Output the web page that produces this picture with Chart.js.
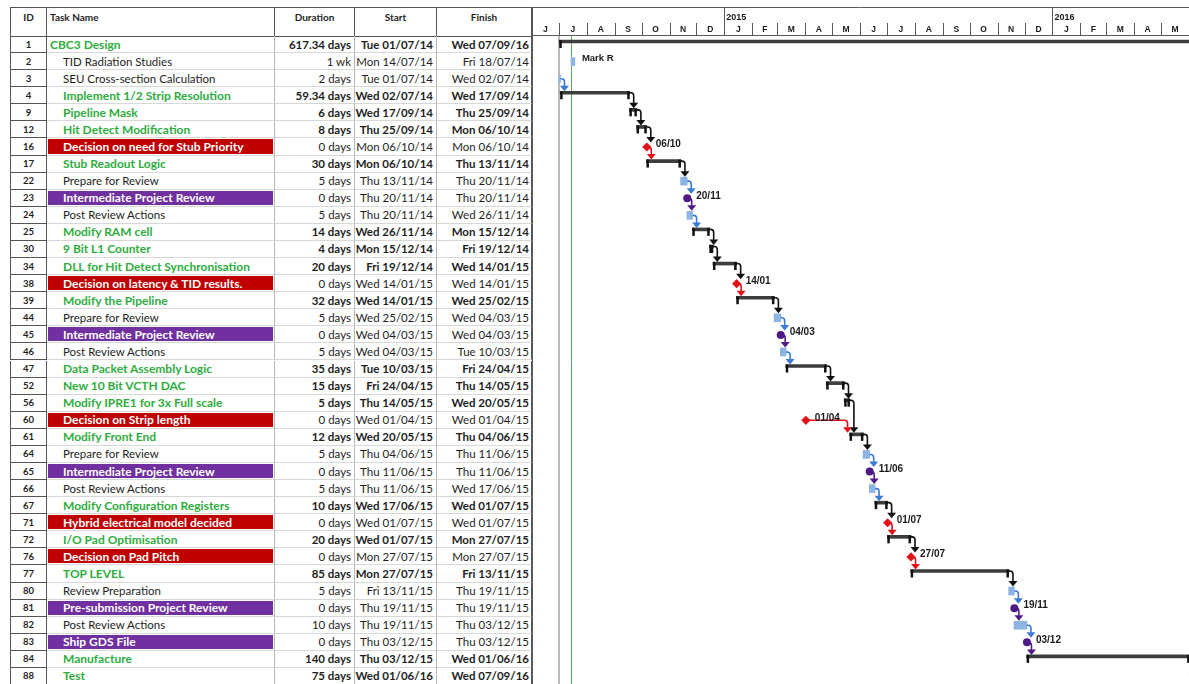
<!DOCTYPE html>
<html>
<head>
<meta charset="utf-8">
<title>CBC3 Design schedule</title>
<script src="https://cdn.jsdelivr.net/npm/chart.js"></script>
<style>
  html, body { margin: 0; padding: 0; background: #fff; }
  body { width: 1189px; height: 684px; overflow: hidden; position: relative; }
  #sheet { position: absolute; left: 0; top: 0; width: 533px; height: 684px;
           font-family: Lato, 'Open Sans', 'DejaVu Sans', sans-serif; color: #1e1e1e; }
  .c { position: absolute; box-sizing: border-box; white-space: nowrap; overflow: hidden;
       font-size: 11.5px; display: flex; align-items: center; }
  .hd { font-weight: 700; font-size: 10px; align-items: flex-start; padding-top: 3px;
        border-top: 1px solid #555; border-bottom: 1px solid #555; border-right: 1px solid #555;
        justify-content: center; }
  .hd.first { border-left: 1px solid #555; }
  .hd.left { justify-content: flex-start; padding-left: 3px; }
  .idc { justify-content: center; font-weight: 700; font-size: 9.5px;
         border-left: 1px solid #555; border-right: 1px solid #555; border-bottom: 1px solid #555; }
  .name { border-right: 1px solid #b8b8b8; border-bottom: 1px solid #d8d8d8; padding-left: 16px; }
  .name.root { padding-left: 3px; }
  .num { justify-content: flex-end; padding-right: 3px;
         border-right: 1px solid #b8b8b8; border-bottom: 1px solid #d8d8d8; }
  .num.last { border-right: 1px solid #555; padding-right: 2px; }
  .summary { color: #2ead3e; font-weight: 700; font-size: 12px; }
  .num.bold { font-weight: 700; }
  .decision { background: #c00000; color: #fff; font-weight: 700; font-size: 12px;
              box-shadow: inset 1px 1px 0 #fff, inset -1px -1px 0 #fff; }
  .review { background: #7030a0; color: #fff; font-weight: 700; font-size: 12px;
            box-shadow: inset 1px 1px 0 #fff, inset -1px -1px 0 #fff; }
  #gantt { position: absolute; left: 532px; top: 0; }
</style>
</head>
<body>
<div id="sheet"></div>
<canvas id="gantt" width="657" height="685" style="width:657px;height:685px"></canvas>
<script>
// ---- schedule rows ----
const rowIds = ['1','2','3','4','9','12','16','17','22','23','24','25','30','34','38','39','44','45','46',
  '47','52','56','60','61','64','65','66','67','71','72','76','77','80','81','82','83','84','88'];

const taskNames = ['CBC3 Design','TID Radiation Studies','SEU Cross-section Calculation',
  'Implement 1/2 Strip Resolution','Pipeline Mask','Hit Detect Modification',
  'Decision on need for Stub Priority','Stub Readout Logic','Prepare for Review',
  'Intermediate Project Review','Post Review Actions','Modify RAM cell','9 Bit L1 Counter',
  'DLL for Hit Detect Synchronisation','Decision on latency & TID results.','Modify the Pipeline',
  'Prepare for Review','Intermediate Project Review','Post Review Actions','Data Packet Assembly Logic',
  'New 10 Bit VCTH DAC','Modify IPRE1 for 3x Full scale','Decision on Strip length','Modify Front End',
  'Prepare for Review','Intermediate Project Review','Post Review Actions',
  'Modify Configuration Registers','Hybrid electrical model decided','I/O Pad Optimisation',
  'Decision on Pad Pitch','TOP LEVEL','Review Preparation','Pre-submission Project Review',
  'Post Review Actions','Ship GDS File','Manufacture','Test'];

// summary = grouped work, task = plain task, decision / review = milestones
const rowKinds = ['summary','task','task','summary','summary','summary','decision','summary','task',
  'review','task','summary','summary','summary','decision','summary','task','review','task','summary',
  'summary','summary','decision','summary','task','review','task','summary','decision','summary',
  'decision','summary','task','review','task','review','summary','summary'];

const durations = ['617.34 days','1 wk','2 days','59.34 days','6 days','8 days','0 days','30 days',
  '5 days','0 days','5 days','14 days','4 days','20 days','0 days','32 days','5 days','0 days','5 days',
  '35 days','15 days','5 days','0 days','12 days','5 days','0 days','5 days','10 days','0 days',
  '20 days','0 days','85 days','5 days','0 days','10 days','0 days','140 days','75 days'];

const startDates = ['Tue 01/07/14','Mon 14/07/14','Tue 01/07/14','Wed 02/07/14','Wed 17/09/14',
  'Thu 25/09/14','Mon 06/10/14','Mon 06/10/14','Thu 13/11/14','Thu 20/11/14','Thu 20/11/14',
  'Wed 26/11/14','Mon 15/12/14','Fri 19/12/14','Wed 14/01/15','Wed 14/01/15','Wed 25/02/15',
  'Wed 04/03/15','Wed 04/03/15','Tue 10/03/15','Fri 24/04/15','Thu 14/05/15','Wed 01/04/15',
  'Wed 20/05/15','Thu 04/06/15','Thu 11/06/15','Thu 11/06/15','Wed 17/06/15','Wed 01/07/15',
  'Wed 01/07/15','Mon 27/07/15','Mon 27/07/15','Fri 13/11/15','Thu 19/11/15','Thu 19/11/15',
  'Thu 03/12/15','Thu 03/12/15','Wed 01/06/16'];

const finishDates = ['Wed 07/09/16','Fri 18/07/14','Wed 02/07/14','Wed 17/09/14','Thu 25/09/14',
  'Mon 06/10/14','Mon 06/10/14','Thu 13/11/14','Thu 20/11/14','Thu 20/11/14','Wed 26/11/14',
  'Mon 15/12/14','Fri 19/12/14','Wed 14/01/15','Wed 14/01/15','Wed 25/02/15','Wed 04/03/15',
  'Wed 04/03/15','Tue 10/03/15','Fri 24/04/15','Thu 14/05/15','Wed 20/05/15','Wed 01/04/15',
  'Thu 04/06/15','Thu 11/06/15','Thu 11/06/15','Wed 17/06/15','Wed 01/07/15','Wed 01/07/15',
  'Mon 27/07/15','Mon 27/07/15','Fri 13/11/15','Thu 19/11/15','Thu 19/11/15','Thu 03/12/15',
  'Thu 03/12/15','Wed 01/06/16','Wed 07/09/16'];

const resourceNames = ['','Mark R','','','','','','','','','','','','','','','','','','','','','',
  '','','','','','','','','','','','','','',''];

// finish-to-start links (predecessor id -> successor id)
const linkFrom = ['3','4','9','12','16','17','22','23','24','25','30','34','38','39','44','45','46','47',
  '52','56','60','61','64','65','66','67','71','72','76','77','80','81','82','83','84'];
const linkTo   = ['4','9','12','16','17','22','23','24','25','30','34','38','39','44','45','46','47','52',
  '56','61','61','64','65','66','67','71','72','76','77','80','81','82','83','84','88'];

// ---- timescale ----
const timelineStart = '01/06/14';
const timelineEnd = '01/06/16';
const monthLetters = ['J','J','A','S','O','N','D','J','F','M','A','M','J','J','A','S','O','N','D','J','F','M','A','M'];
const projectStartDate = 'Tue 01/07/14';
const statusDate = 'Mon 14/07/14';

// ---- helpers ----
const DAY_MS = 86400000;
const WORK_START = 8 / 24, WORK_END = 17 / 24;
function dayOf(label) {
  const parts = label.trim().split(' ');
  const [d, m, y] = parts[parts.length - 1].split('/').map(Number);
  return Date.UTC(2000 + y, m - 1, d) / DAY_MS;
}
function monthBoundary(i) {
  const [, m, y] = timelineStart.split('/').map(Number);
  return Date.UTC(2000 + y, m - 1 + i, 1) / DAY_MS;
}

// ---- sheet (left grid) ----
const TOP = 36, HEAD_TOP = 7;
const ROW_H = (685 - TOP) / rowIds.length;
const COLS = { id: [10, 37], name: [47, 228], dur: [275, 80], start: [355, 82], finish: [437, 95] };
const sheet = document.getElementById('sheet');
function cell(col, top, height, cls, text) {
  const d = document.createElement('div');
  d.className = 'c ' + cls;
  d.style.left = COLS[col][0] + 'px';
  d.style.width = COLS[col][1] + 'px';
  d.style.top = top + 'px';
  d.style.height = height + 'px';
  if (text !== undefined) d.textContent = text;
  sheet.appendChild(d);
  return d;
}
cell('id', HEAD_TOP, TOP - HEAD_TOP + 1, 'hd first', 'ID');
cell('name', HEAD_TOP, TOP - HEAD_TOP + 1, 'hd left', 'Task Name');
cell('dur', HEAD_TOP, TOP - HEAD_TOP + 1, 'hd', 'Duration');
cell('start', HEAD_TOP, TOP - HEAD_TOP + 1, 'hd', 'Start');
cell('finish', HEAD_TOP, TOP - HEAD_TOP + 1, 'hd', 'Finish');

rowIds.forEach((id, i) => {
  const top = TOP + i * ROW_H;
  const kind = rowKinds[i];
  const strong = kind === 'summary' ? ' bold' : '';
  cell('id', top, ROW_H, 'idc', id);
  cell('name', top, ROW_H, 'name ' + kind + (i === 0 ? ' root' : ''), taskNames[i]);
  cell('dur', top, ROW_H, 'num' + strong, durations[i]);
  cell('start', top, ROW_H, 'num' + strong, startDates[i]);
  cell('finish', top, ROW_H, 'num last' + strong, finishDates[i]);
});

// ---- gantt data ----
function barsOf(kind) {
  return rowIds.map((id, i) => rowKinds[i] === kind
    ? { y: id, x: [dayOf(startDates[i]) + WORK_START, dayOf(finishDates[i]) + WORK_END] } : null)
    .filter(Boolean);
}
function milestonesOf(kind) {
  return rowIds.map((id, i) => rowKinds[i] === kind
    ? { y: id, x: dayOf(finishDates[i]) + WORK_END } : null).filter(Boolean);
}

const LINK_COLORS = { summary: '#111111', task: '#3a7ad6', decision: '#e3121b', review: '#4f1a84' };
const SUMMARY_LIFT = 3;

const ganttPlugin = {
  id: 'ganttDecor',
  beforeDatasetsDraw(chart) {
    const { ctx, chartArea: a, scales: { x } } = chart;
    ctx.save();
    const p0 = Math.round(x.getPixelForValue(dayOf(projectStartDate) + WORK_START));
    ctx.strokeStyle = '#a3a3a3'; ctx.lineWidth = 1.5;
    ctx.beginPath(); ctx.moveTo(p0, a.top); ctx.lineTo(p0, a.bottom); ctx.stroke();
    const p1 = Math.round(x.getPixelForValue(dayOf(statusDate) + WORK_START)) + 0.5;
    ctx.strokeStyle = '#5fa85f'; ctx.lineWidth = 1;
    ctx.beginPath(); ctx.moveTo(p1, a.top); ctx.lineTo(p1, a.bottom); ctx.stroke();
    ctx.restore();
  },
  beforeDatasetDraw(chart, args) {
    if (args.index === 0) { chart.ctx.save(); chart.ctx.translate(0, -SUMMARY_LIFT); }
  },
  afterDatasetDraw(chart, args) {
    if (args.index !== 0) return;
    const ctx = chart.ctx;
    ctx.restore();
    // end caps of the summary brackets
    ctx.save();
    ctx.fillStyle = '#111';
    args.meta.data.forEach(el => {
      const top = el.y - SUMMARY_LIFT - 1.5;
      ctx.fillRect(el.base, top, 2.5, 8);
      ctx.fillRect(el.x - 2.5, top, 2.5, 8);
    });
    ctx.restore();
  },
  afterDatasetsDraw(chart) {
    const { ctx, scales: { x, y } } = chart;
    const rowY = id => y.getPixelForValue(rowIds.indexOf(id));
    ctx.save();
    // dependency links
    linkFrom.forEach((from, k) => {
      const to = linkTo[k];
      const fi = rowIds.indexOf(from), ti = rowIds.indexOf(to);
      const fk = rowKinds[fi], tk = rowKinds[ti];
      const fEnd = x.getPixelForValue(dayOf(finishDates[fi]) + WORK_END);
      let ex, ey, vx;
      if (fk === 'summary') { ex = fEnd - 1; ey = rowY(from) - SUMMARY_LIFT; vx = fEnd + 4; }
      else if (fk === 'task') { ex = fEnd; ey = rowY(from); vx = fEnd + 4; }
      else { ex = fEnd; ey = rowY(from); vx = fEnd + 4.5; }
      const milestoneTo = tk === 'decision' || tk === 'review';
      const sx = x.getPixelForValue(milestoneTo ? dayOf(finishDates[ti]) + WORK_END
                                                : dayOf(startDates[ti]) + WORK_START);
      vx = Math.max(vx, sx - 2);
      const ty = rowY(to) - 4.5;
      const color = LINK_COLORS[fk];
      const r = 3, ah = 5.5;
      ctx.strokeStyle = color; ctx.fillStyle = color; ctx.lineWidth = 1.6;
      ctx.beginPath();
      ctx.moveTo(ex, ey);
      ctx.lineTo(vx - r, ey);
      ctx.quadraticCurveTo(vx, ey, vx, ey + r);
      ctx.lineTo(vx, ty - ah + 0.5);
      ctx.stroke();
      ctx.beginPath();
      ctx.moveTo(vx - 4.5, ty - ah); ctx.lineTo(vx + 4.5, ty - ah); ctx.lineTo(vx, ty);
      ctx.closePath(); ctx.fill();
    });
    // milestone date labels
    ctx.fillStyle = '#1a1a1a';
    ctx.font = 'bold 10px "Liberation Sans", Arial, sans-serif';
    ctx.textBaseline = 'middle'; ctx.textAlign = 'left';
    rowIds.forEach((id, i) => {
      if (rowKinds[i] !== 'decision' && rowKinds[i] !== 'review') return;
      const px = x.getPixelForValue(dayOf(finishDates[i]) + WORK_END);
      const dm = finishDates[i].split(' ')[1].slice(0, 5);
      ctx.fillText(dm, px + 9, rowY(id) - 2.5);
    });
    // resource names
    ctx.font = 'bold 9.5px "Liberation Sans", Arial, sans-serif';
    rowIds.forEach((id, i) => {
      if (!resourceNames[i]) return;
      const px = x.getPixelForValue(dayOf(finishDates[i]) + WORK_END);
      ctx.fillText(resourceNames[i], px + 7, rowY(id) - 3);
    });
    ctx.restore();
  },
  afterDraw(chart) {
    const { ctx, chartArea: a, scales: { x } } = chart;
    const W = chart.width;
    ctx.save();
    ctx.strokeStyle = '#5a5a5a'; ctx.lineWidth = 1;
    ctx.beginPath();
    ctx.moveTo(0, HEAD_TOP + 0.5); ctx.lineTo(W, HEAD_TOP + 0.5);
    ctx.moveTo(0, a.top - 0.5); ctx.lineTo(W, a.top - 0.5);
    ctx.moveTo(0.5, HEAD_TOP); ctx.lineTo(0.5, chart.height);
    ctx.stroke();
    ctx.fillStyle = '#1a1a1a';
    ctx.textAlign = 'center'; ctx.textBaseline = 'middle';
    for (let i = 0; i < monthLetters.length; i++) {
      const d0 = monthBoundary(i), d1 = monthBoundary(i + 1);
      const x0 = x.getPixelForValue(d0), x1 = x.getPixelForValue(d1);
      const isYear = new Date(d0 * DAY_MS).getUTCMonth() === 0;
      if (i > 0) {
        const lx = Math.round(x0) + 0.5;
        ctx.beginPath();
        ctx.moveTo(lx, isYear ? HEAD_TOP : 23); ctx.lineTo(lx, a.top);
        ctx.stroke();
      }
      if (isYear) {
        ctx.font = 'bold 9px "Liberation Sans", Arial, sans-serif';
        ctx.textAlign = 'left';
        ctx.fillText(String(new Date(d0 * DAY_MS).getUTCFullYear()), x0 + 2, 18);
        ctx.textAlign = 'center';
      }
      ctx.font = 'bold 8.5px "Liberation Sans", Arial, sans-serif';
      ctx.fillText(monthLetters[i], (x0 + x1) / 2, 30);
    }
    ctx.restore();
  }
};

new Chart(document.getElementById('gantt'), {
  type: 'bar',
  data: {
    labels: rowIds,
    datasets: [
      { type: 'bar', label: 'Summary', data: barsOf('summary'), backgroundColor: '#3d3d3d',
        barThickness: 3, grouped: false },
      { type: 'bar', label: 'Task', data: barsOf('task'), backgroundColor: '#8db4e3',
        barThickness: 8, grouped: false },
      { type: 'line', label: 'Decision', data: milestonesOf('decision'), showLine: false,
        pointStyle: 'rectRot', pointRadius: 4.6, pointBackgroundColor: '#e3121b',
        pointBorderColor: '#e3121b', pointBorderWidth: 0 },
      { type: 'line', label: 'Review', data: milestonesOf('review'), showLine: false,
        pointStyle: 'circle', pointRadius: 4, pointBackgroundColor: '#4f1a84',
        pointBorderColor: '#4f1a84', pointBorderWidth: 0 }
    ]
  },
  options: {
    indexAxis: 'y',
    responsive: false,
    animation: false,
    devicePixelRatio: 1,
    layout: { autoPadding: false, padding: { top: TOP, left: 0, right: 0, bottom: 0 } },
    scales: {
      x: { type: 'linear', min: dayOf(timelineStart), max: dayOf(timelineEnd), display: false },
      y: { type: 'category', offset: true, display: false }
    },
    plugins: { legend: { display: false }, tooltip: { enabled: false } },
    events: []
  },
  plugins: [ganttPlugin]
});
</script>
</body>
</html>
